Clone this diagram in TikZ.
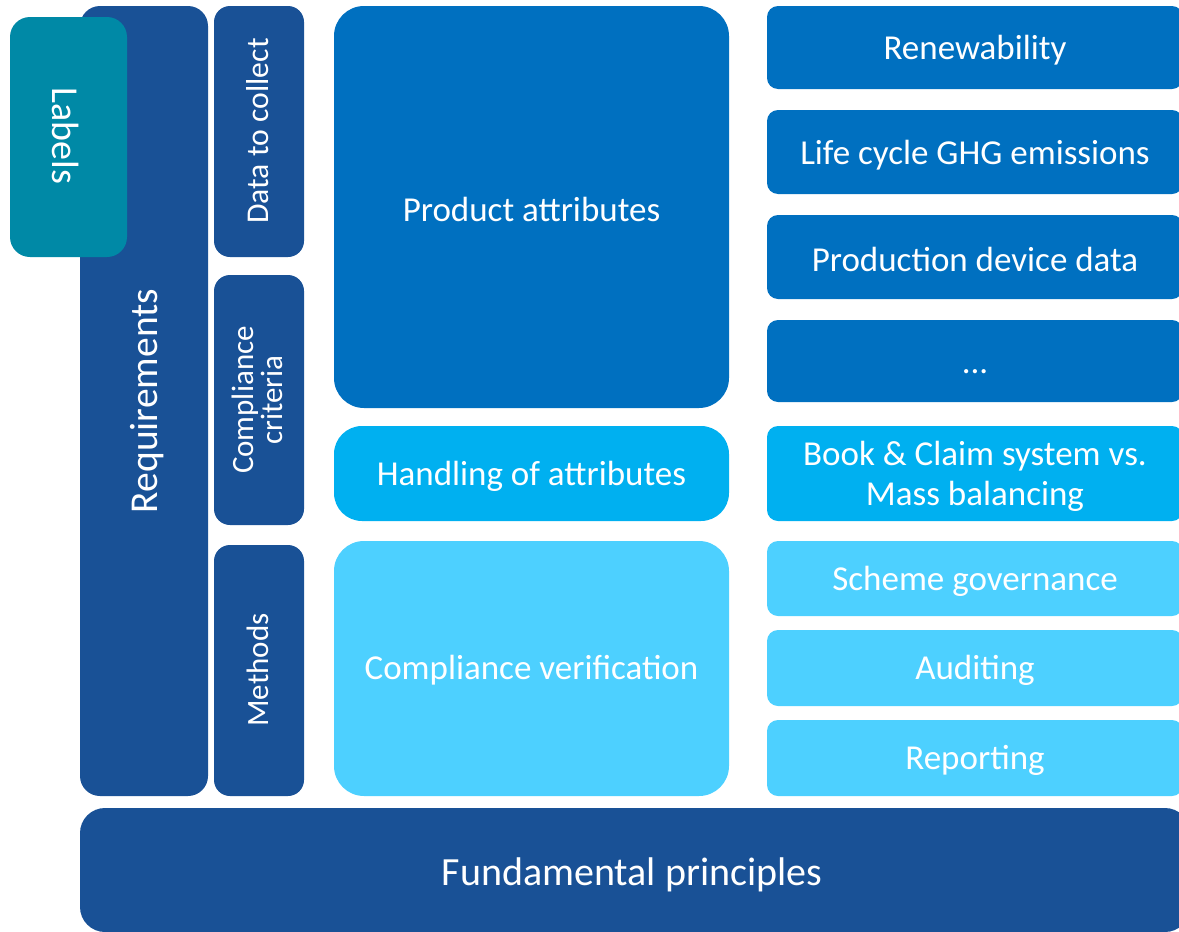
\documentclass[tikz,border=0pt]{standalone}
\usepackage{fontspec}
\setmainfont{Carlito}
\definecolor{darkb}{RGB}{25,81,150}
\definecolor{tealb}{RGB}{0,137,166}
\definecolor{midb}{RGB}{0,112,192}
\definecolor{cyanb}{RGB}{0,176,240}
\definecolor{lightb}{RGB}{77,208,255}
\tikzset{
  box/.style={draw=none, text=white, align=center, inner sep=0pt, rectangle},
  fs/.style={font=\fontsize{#1}{#1}\selectfont},
}
\begin{document}
\begin{tikzpicture}[x=1pt,y=-1pt]
\useasboundingbox (0,0) rectangle (1179,932);
\clip (0,0) rectangle (1179,932);
% left column
\node[box, fill=darkb, rounded corners=20pt, minimum width=128pt, minimum height=790pt] (req) at (144,401) {};
\node[text=white, rotate=90, fs=39.5] (reqt) at (147,401) {Requirements};
\node[box, fill=tealb, rounded corners=20pt, minimum width=117pt, minimum height=240pt] (lab) at (68.5,137) {};
\node[text=white, rotate=-90, fs=38] (labt) at (66,136) {Labels};
% second column
\node[box, fill=darkb, rounded corners=16pt, minimum width=90pt, minimum height=251pt] (data) at (259,131.5) {};
\node[text=white, rotate=90, fs=31.7] (datat) at (258,131) {Data to collect};
\node[box, fill=darkb, rounded corners=16pt, minimum width=90pt, minimum height=250pt] (comp) at (259,400) {};
\node[text=white, rotate=90, fs=31, align=center] (compt) at (257,400) {Compliance\\[-2pt]criteria};
\node[box, fill=darkb, rounded corners=16pt, minimum width=90pt, minimum height=251pt] (meth) at (259,670.5) {};
\node[text=white, rotate=90, fs=31] (metht) at (258,670) {Methods};
% middle column
\tikzset{mtext/.style={text=white, fs=35}}
\node[box, fill=midb, rounded corners=30pt, minimum width=395pt, minimum height=402pt] (prod) at (531.5,207) {};
\node[mtext] (prodt) at (531.5,209) {Product attributes};
\node[box, fill=cyanb, rounded corners=28pt, minimum width=395pt, minimum height=95pt] (hand) at (531.5,473.5) {};
\node[mtext] (handt) at (531.5,476) {Handling of attributes};
\node[box, fill=lightb, rounded corners=30pt, minimum width=395pt, minimum height=255pt] (ver) at (531.5,668.5) {};
\node[mtext] (vert) at (531.5,670) {Compliance verification};
% right column
\tikzset{rbox/.style={box, rounded corners=11pt, minimum width=416pt},
         rtext/.style={text=white, fs=35, align=center}}
\node[rbox, fill=midb, minimum height=83pt] (r1) at (975,47.5) {};
\node[rtext] (r1t) at (975,50) {Renewability};
\node[rbox, fill=midb, minimum height=84pt] (r2) at (975,152) {};
\node[rtext] (r2t) at (975,155) {Life cycle GHG emissions};
\node[rbox, fill=midb, minimum height=84pt] (r3) at (975,257) {};
\node[rtext] (r3t) at (975,259) {Production device data};
\node[rbox, fill=midb, minimum height=82pt] (r4) at (975,361) {};
\node[rtext] (r4t) at (975,372) {...};
\node[rbox, fill=cyanb, minimum height=95pt] (r5) at (975,473.5) {};
\node[rtext] (r5t) at (975,476) {Book \& Claim system vs.\\[5pt]Mass balancing};
\node[rbox, fill=lightb, minimum height=75pt] (r6) at (975,578.5) {};
\node[rtext] (r6t) at (975,581) {Scheme governance};
\node[rbox, fill=lightb, minimum height=76pt] (r7) at (975,668) {};
\node[rtext] (r7t) at (975,670) {Auditing};
\node[rbox, fill=lightb, minimum height=76pt] (r8) at (975,758) {};
\node[rtext] (r8t) at (975,760) {Reporting};
% bottom
\node[box, fill=darkb, rounded corners=25pt, minimum width=1110pt, minimum height=124pt] (fund) at (635,870) {};
\node[text=white, fs=40] (fundt) at (632,875) {Fundamental principles};
\end{tikzpicture}
\end{document}
